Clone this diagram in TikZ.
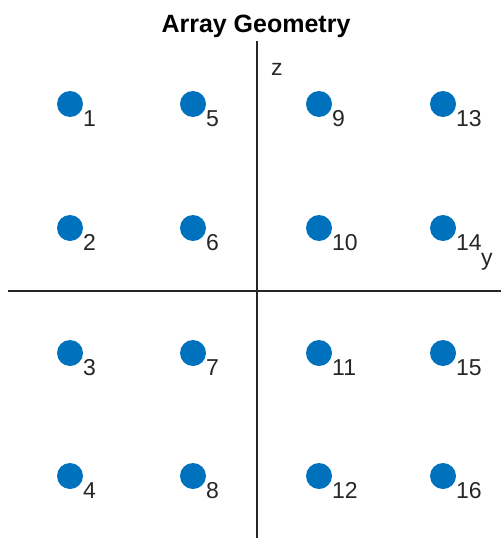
\documentclass[tikz,border=0pt]{standalone}
\usepackage{fontspec}
\setmainfont{Liberation Sans}
\definecolor{elemblue}{HTML}{0072BD}
\definecolor{labelgray}{HTML}{262626}
\begin{document}
\begin{tikzpicture}[
    x=1pt, y=-1pt,
    element/.style={circle, fill=elemblue, minimum size=26pt, inner sep=0pt},
    idx/.style={inner sep=0pt, text=labelgray, font=\fontsize{23}{23}\selectfont},
    axis/.style={draw=labelgray, line width=1.3pt}
    ]
    \useasboundingbox (0,0) rectangle (501,538);
    
    \node[anchor=base, inner sep=0pt, font=\bfseries\fontsize{25}{25}\selectfont] (title) at (256,32) {Array Geometry};
    
    \coordinate (zTop) at (257,41);
    \coordinate (zBot) at (257,538);
    \coordinate (yLeft) at (8,291);
    \coordinate (yRight) at (501,291);
    \draw[axis] (zTop) -- (zBot);
    \draw[axis] (yLeft) -- (yRight);
    \node[idx, anchor=base west] (zlab) at (271,75) {z};
    \node[idx, anchor=base west] (ylab) at (481,265) {y};
    
    \foreach \c/\x in {0/70,1/193,2/319,3/443} {
      \foreach \r/\y in {0/104,1/228,2/353,3/476} {
        \pgfmathtruncatemacro{\n}{4*\c+\r+1}
        \node[element] (e\n) at (\x,\y) {};
        \node[idx, anchor=north west] (l\n) at ([xshift=13pt,yshift=-6pt]e\n.center) {\n};
      }
    }
    
  \end{tikzpicture}
\end{document}
